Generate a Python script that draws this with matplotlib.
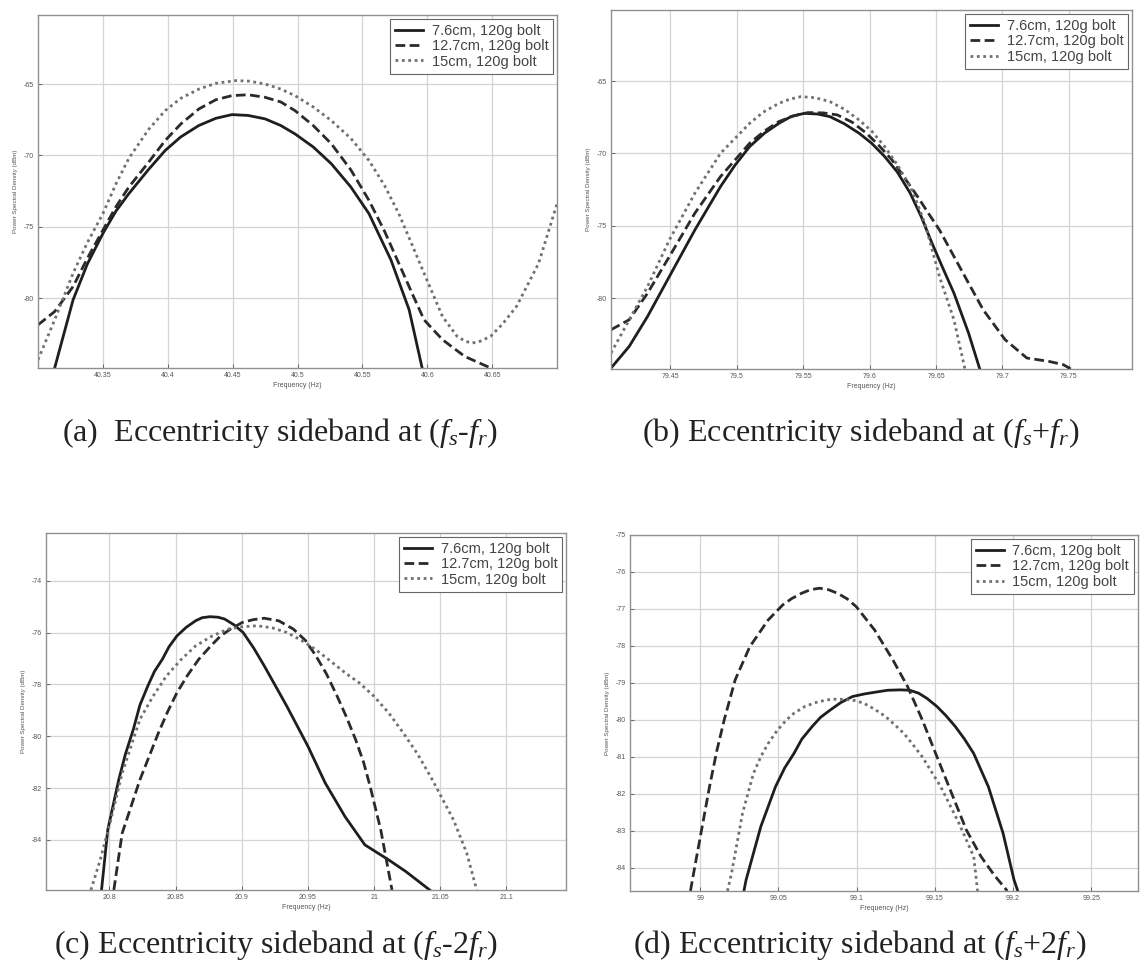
import matplotlib
matplotlib.use('Agg')
import matplotlib.pyplot as plt

plt.rcParams['font.family'] = 'Liberation Sans'
plt.rcParams['axes.unicode_minus'] = False
plt.rcParams['mathtext.fontset'] = 'custom'
plt.rcParams['mathtext.rm'] = 'Liberation Serif'
plt.rcParams['mathtext.it'] = 'Liberation Serif:italic'

legend_labels = ['7.6cm, 120g bolt', '12.7cm, 120g bolt', '15cm, 120g bolt']

# (a) sideband at fs - fr
a_solid_x = [40.3128, 40.327, 40.338, 40.350, 40.360, 40.370, 40.385, 40.398, 40.410, 40.424, 40.437, 40.4495,
             40.462, 40.475, 40.487, 40.498, 40.512, 40.526, 40.541, 40.555, 40.572, 40.586, 40.596]
a_solid_y = [-84.88, -80.11, -77.6, -75.46, -73.9, -72.67, -71.0, -69.65, -68.7, -67.90, -67.4, -67.14,
             -67.2, -67.44, -67.9, -68.49, -69.4, -70.58, -72.2, -74.07, -77.32, -80.81, -84.88]
a_dash_x = [40.300, 40.3128, 40.327, 40.338, 40.350, 40.360, 40.370, 40.385, 40.398, 40.410, 40.424, 40.437,
            40.4495, 40.462, 40.475, 40.487, 40.498, 40.512, 40.526, 40.541, 40.555, 40.567, 40.578, 40.588,
            40.5975, 40.6117, 40.6288, 40.6487]
a_dash_y = [-81.86, -80.93, -79.18, -77.2, -75.23, -73.6, -72.21, -70.5, -68.95, -67.8, -66.74, -66.1,
            -65.81, -65.75, -65.93, -66.25, -66.86, -67.9, -69.18, -71.0, -73.14, -75.3, -77.55, -79.6,
            -81.51, -82.90, -84.07, -84.88]
a_dot_x = [40.300, 40.3128, 40.327, 40.338, 40.350, 40.360, 40.370, 40.385, 40.398, 40.410, 40.424, 40.437,
           40.4523, 40.463, 40.475, 40.487, 40.498, 40.512, 40.526, 40.541, 40.555, 40.567, 40.578, 40.588,
           40.5975, 40.6117, 40.623, 40.629, 40.6345, 40.641, 40.6487, 40.658, 40.6687, 40.6858, 40.700]
a_dot_y = [-84.30, -81.51, -78.25, -76.1, -74.07, -72.0, -70.2, -68.2, -66.86, -66.0, -65.35, -64.95,
           -64.76, -64.8, -65.00, -65.35, -65.81, -66.6, -67.56, -68.8, -70.35, -72.1, -74.07, -76.2,
           -78.25, -81.28, -82.67, -83.0, -83.14, -83.0, -82.67, -81.8, -80.58, -77.55, -73.37]
a_xticks = [40.35, 40.4, 40.45, 40.5, 40.55, 40.6, 40.65]
a_yticks = [-80, -75, -70, -65]

# (b) sideband at fs + fr
b_solid_x = [79.4055, 79.4192, 79.433, 79.4494, 79.4686, 79.4879, 79.4989, 79.5098, 79.521, 79.5318, 79.541,
             79.551, 79.561, 79.5702, 79.581, 79.5922, 79.6016, 79.6114, 79.621, 79.6306, 79.639, 79.647,
             79.655, 79.6635, 79.6745, 79.6827]
b_solid_y = [-84.84, -83.34, -81.27, -78.51, -75.29, -72.29, -70.8, -69.53, -68.6, -67.92, -67.45,
             -67.23, -67.28, -67.46, -67.95, -68.61, -69.3, -70.22, -71.3, -72.75, -74.4, -76.21,
             -77.9, -79.66, -82.42, -84.84]
b_dash_x = [79.4055, 79.4192, 79.433, 79.4494, 79.4686, 79.4879, 79.5098, 79.521, 79.5318, 79.543, 79.5537,
            79.565, 79.5757, 79.587, 79.5977, 79.607, 79.6169, 79.626, 79.6361, 79.644, 79.6526, 79.669,
            79.6855, 79.702, 79.7184, 79.7349, 79.7459, 79.7514]
b_dash_y = [-82.19, -81.50, -79.66, -77.13, -74.13, -71.60, -69.30, -68.45, -67.80, -67.4, -67.18,
            -67.2, -67.34, -67.85, -68.61, -69.45, -70.45, -71.65, -72.98, -74.1, -75.29, -78.05,
            -80.81, -82.88, -84.15, -84.38, -84.61, -84.91]
b_dot_x = [79.4055, 79.4192, 79.433, 79.4494, 79.4686, 79.4879, 79.5098, 79.520, 79.5318, 79.540, 79.5482,
           79.559, 79.5702, 79.581, 79.5922, 79.602, 79.6114, 79.621, 79.6306, 79.6361, 79.6416, 79.6526,
           79.6635, 79.6718]
b_dot_y = [-83.80, -81.50, -79.20, -75.98, -72.75, -69.99, -67.92, -67.15, -66.54, -66.25, -66.08,
           -66.15, -66.42, -66.95, -67.69, -68.5, -69.53, -70.8, -72.29, -73.5, -74.83, -78.51,
           -81.50, -84.91]
b_xticks = [79.45, 79.5, 79.55, 79.6, 79.65, 79.7, 79.75]
b_yticks = [-80, -75, -70, -65]

# (c) sideband at fs - 2fr
c_solid_x = [20.794, 20.7987, 20.807, 20.812, 20.818, 20.823, 20.829, 20.834, 20.840, 20.845, 20.851, 20.858,
             20.865, 20.870, 20.876, 20.882, 20.887, 20.894, 20.901, 20.909, 20.917, 20.934, 20.950, 20.963,
             20.978, 20.993, 21.011, 21.024, 21.042]
c_solid_y = [-85.93, -83.61, -81.68, -80.7, -79.74, -78.8, -78.06, -77.5, -77.03, -76.55, -76.13, -75.8,
             -75.55, -75.43, -75.39, -75.41, -75.48, -75.7, -76.00, -76.6, -77.29, -78.84, -80.39, -81.80,
             -83.10, -84.19, -84.77, -85.22, -85.93]
c_dash_x = [20.8033, 20.8096, 20.823, 20.837, 20.844, 20.851, 20.859, 20.8675, 20.876, 20.884, 20.892,
            20.9005, 20.909, 20.917, 20.928, 20.939, 20.948, 20.956, 20.964, 20.972, 20.979, 20.986,
            20.992, 20.997, 21.005, 21.0135]
c_dash_y = [-85.93, -83.74, -81.68, -79.87, -79.05, -78.32, -77.65, -77.03, -76.55, -76.13, -75.85,
            -75.61, -75.5, -75.45, -75.55, -75.87, -76.3, -76.90, -77.6, -78.45, -79.25, -80.13,
            -81.0, -81.94, -83.61, -85.93]
c_dot_x = [20.786, 20.793, 20.801, 20.8096, 20.823, 20.833, 20.843, 20.854, 20.865, 20.877, 20.8895, 20.900,
           20.9116, 20.923, 20.934, 20.945, 20.9556, 20.967, 20.978, 20.989, 20.9997, 21.011, 21.022,
           21.033, 21.044, 21.060, 21.070, 21.0775]
c_dot_y = [-85.93, -84.77, -83.23, -81.42, -79.35, -78.45, -77.68, -77.05, -76.52, -76.15, -75.87, -75.78,
           -75.74, -75.82, -76.00, -76.3, -76.65, -77.1, -77.55, -77.95, -78.45, -79.1, -79.87,
           -80.7, -81.68, -83.23, -84.51, -85.93]
c_xticks = [20.8, 20.85, 20.9, 20.95, 21.0, 21.05, 21.1]
c_yticks = [-84, -82, -80, -78, -76, -74]

# (d) sideband at fs + 2fr
d_solid_x = [99.0279, 99.0293, 99.0387, 99.0481, 99.054, 99.0599, 99.065, 99.0716, 99.077, 99.0833, 99.090,
             99.0974, 99.105, 99.1138, 99.120, 99.128, 99.134, 99.1397, 99.145, 99.1514, 99.157, 99.1631,
             99.169, 99.1749, 99.1843, 99.1937, 99.2007, 99.2031]
d_solid_y = [-84.63, -84.33, -82.89, -81.81, -81.3, -80.91, -80.52, -80.18, -79.93, -79.73, -79.53,
             -79.37, -79.3, -79.24, -79.2, -79.19, -79.2, -79.28, -79.42, -79.64, -79.88, -80.18,
             -80.52, -80.91, -81.81, -83.07, -84.33, -84.63]
d_dash_x = [98.9937, 98.9965, 99.0059, 99.0105, 99.0153, 99.0223, 99.0317, 99.0434, 99.0528, 99.0585,
            99.0646, 99.0705, 99.0763, 99.082, 99.088, 99.094, 99.0998, 99.105, 99.1115, 99.117, 99.1232,
            99.1326, 99.142, 99.1514, 99.1608, 99.1702, 99.1796, 99.188, 99.1964]
d_dash_y = [-84.63, -83.97, -81.81, -80.85, -80.00, -78.92, -78.02, -77.30, -76.89, -76.72,
            -76.58, -76.48, -76.44, -76.48, -76.58, -76.73, -76.94, -77.22, -77.57, -77.95, -78.38,
            -79.10, -80.00, -81.00, -81.99, -82.98, -83.70, -84.2, -84.63]
d_dot_x = [99.0174, 99.020, 99.027, 99.034, 99.0387, 99.0434, 99.049, 99.0552, 99.060, 99.0669, 99.074,
           99.081, 99.087, 99.0927, 99.099, 99.1045, 99.111, 99.1185, 99.124, 99.1303, 99.136, 99.142,
           99.1538, 99.1655, 99.1749, 99.1774]
d_dot_y = [-84.63, -84.15, -82.53, -81.45, -81.0, -80.64, -80.3, -80.00, -79.82, -79.64, -79.53,
           -79.46, -79.44, -79.45, -79.48, -79.55, -79.7, -79.91, -80.12, -80.37, -80.67, -81.00,
           -81.81, -82.80, -83.70, -84.63]
d_xticks = [99.0, 99.05, 99.1, 99.15, 99.2, 99.25]
d_yticks = [-84, -83, -82, -81, -80, -79, -78, -77, -76, -75]

captions = [
    r'(a)  Eccentricity sideband at $(f_s$-$f_r)$',
    r'(b) Eccentricity sideband at $(f_s$+$f_r)$',
    r'(c) Eccentricity sideband at $(f_s$-$2f_r)$',
    r'(d) Eccentricity sideband at $(f_s$+$2f_r)$',
]


def draw_panel(ax, curves, xticks, yticks, xlim, ylim):
    (sx, sy), (dx, dy), (px, py) = curves
    ax.plot(sx, sy, color='#1e1e1e', lw=2.0, ls='-', label=legend_labels[0], solid_joinstyle='round')
    ax.plot(dx, dy, color='#2a2a2a', lw=2.0, ls=(0, (3.5, 1.6)), label=legend_labels[1])
    ax.plot(px, py, color='#707070', lw=2.0, ls=(0, (1, 1.3)), label=legend_labels[2])
    ax.set_xlim(*xlim)
    ax.set_ylim(*ylim)
    ax.set_xticks(xticks)
    ax.set_xticklabels(['%g' % t for t in xticks])
    ax.set_yticks(yticks)
    ax.set_yticklabels(['%g' % t for t in yticks])
    ax.grid(True, color='#d4d4d4', lw=0.9)
    ax.tick_params(direction='in', length=3, width=0.6, labelsize=5, colors='#555555', pad=3)
    for s in ax.spines.values():
        s.set_color('#909090')
        s.set_linewidth(1.0)
    ax.set_xlabel('Frequency (Hz)', fontsize=5, color='#555555', labelpad=2)
    ax.set_ylabel('Power Spectral Density (dBm)', fontsize=4.5, color='#555555', labelpad=4)
    leg = ax.legend(loc='upper right', fontsize=10.5, handlelength=1.9, handletextpad=0.6,
                    labelspacing=0.1, borderpad=0.35, fancybox=False, framealpha=1,
                    borderaxespad=0.25)
    leg.get_frame().set_edgecolor('#666666')
    leg.get_frame().set_linewidth(0.8)
    for t in leg.get_texts():
        t.set_color('#444444')


def main():
    fig = plt.figure(figsize=(11.46, 9.75), dpi=100)

    ax_a = fig.add_axes([0.0332, 0.6226, 0.4529, 0.3621])
    draw_panel(ax_a, [(a_solid_x, a_solid_y), (a_dash_x, a_dash_y), (a_dot_x, a_dot_y)],
               a_xticks, a_yticks, (40.30, 40.70), (-84.88, -60.16))

    ax_b = fig.add_axes([0.5332, 0.6215, 0.4546, 0.3682])
    draw_panel(ax_b, [(b_solid_x, b_solid_y), (b_dash_x, b_dash_y), (b_dot_x, b_dot_y)],
               b_xticks, b_yticks, (79.4055, 79.7975), (-84.91, -60.09))

    ax_c = fig.add_axes([0.0401, 0.0872, 0.4538, 0.3662])
    draw_panel(ax_c, [(c_solid_x, c_solid_y), (c_dash_x, c_dash_y), (c_dot_x, c_dot_y)],
               c_xticks, c_yticks, (20.752, 21.145), (-85.93, -72.16))

    ax_d = fig.add_axes([0.5497, 0.0862, 0.4433, 0.3651])
    draw_panel(ax_d, [(d_solid_x, d_solid_y), (d_dash_x, d_dash_y), (d_dot_x, d_dot_y)],
               d_xticks, d_yticks, (98.955, 99.28), (-84.63, -75.0))

    pos = [(0.244, 0.556), (0.751, 0.556), (0.241, 0.031), (0.750, 0.031)]
    for (x, y), txt in zip(pos, captions):
        fig.text(x, y, txt, ha='center', va='center', fontsize=23,
                 family='Liberation Serif', color='#222222')

    fig.savefig('out.png', dpi=100)


if __name__ == '__main__':
    main()
